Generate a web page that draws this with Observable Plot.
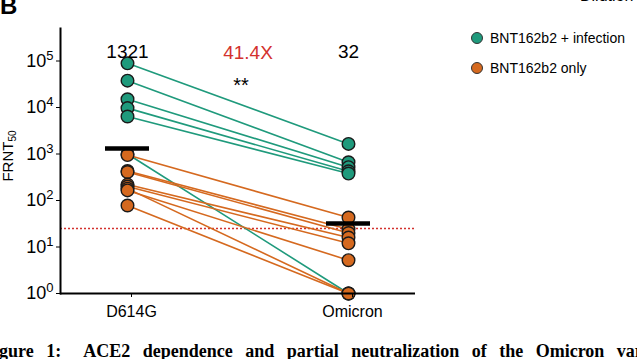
<!DOCTYPE html>
<html>
<head>
<meta charset="utf-8">
<script src="https://cdn.jsdelivr.net/npm/d3@7"></script>
<script src="https://cdn.jsdelivr.net/npm/@observablehq/plot@0.6"></script>
<style>
  html, body { margin: 0; padding: 0; background: #fff; }
  body { width: 637px; height: 359px; overflow: hidden; position: relative; font-family: "Liberation Sans", Arial, sans-serif; }
  #chart { position: absolute; left: 0; top: 0; }
  .abs { position: absolute; white-space: nowrap; color: #000; }
  #panel { left: 0px; top: -6px; font-size: 24px; font-weight: bold; line-height: 24px; }
  #dilution { left: 580px; top: -12px; font-size: 16px; line-height: 16px; }
  #ylabel { left: 10px; top: 156px; font-size: 15px; line-height: 15px; transform: translate(-50%, -50%) rotate(-90deg); }
  #ylabel sub { font-size: 10px; vertical-align: -3px; }
  #legend { left: 471px; top: 29px; font-size: 14px; }
  #legend .item { display: flex; align-items: center; height: 18px; margin-bottom: 12px; }
  #legend .sw { width: 12px; height: 12px; border-radius: 50%; border: 1px solid #333; box-sizing: border-box; margin-right: 7px; }
  #caption { left: -17px; top: 342px; font-family: "Liberation Serif", "DejaVu Serif", serif; font-weight: bold; font-size: 18px; line-height: 18px; word-spacing: 8px; }
  #caption .gap { display: inline-block; width: 22px; }
  #caption .rest { word-spacing: 8px; }
</style>
</head>
<body>
<div id="chart"></div>
<div class="abs" id="panel">B</div>
<div class="abs" id="dilution">Dilution</div>
<div class="abs" id="ylabel">FRNT<sub>50</sub></div>
<div class="abs" id="legend"></div>
<div class="abs" id="caption"><span>Figure 1:</span><span class="gap"></span><span class="rest">ACE2 dependence and partial neutralization of the Omicron variant</span></div>
<script>
// ---- data ----
const variants = ["D614G", "Omicron"];
const cohorts = ["BNT162b2 + infection", "BNT162b2 only"];
const cohortColors = ["#1f9a7c", "#d5691f"];
const subjectCohort = [0, 0, 0, 0, 0, 0, 1, 1, 1, 1, 1, 1, 1, 1];
const frntD614G   = [89000, 37800, 15000, 9700, 6400, 1000, 950, 430, 410, 220, 200, 180, 165, 78];
const frntOmicron = [1650, 665, 520, 425, 380, 1, 43, 24, 20, 16, 12, 1, 5.2, 1];
const geoMeans = [1321, 32];
const geoMeanLabels = ["1321", "32"];
const foldLabel = "41.4X";
const sigLabel = "**";
const detectionLimit = 25;
const yTicks = [1, 10, 100, 1000, 10000, 100000];
const yDomain = [1, 5e5];

// ---- tables ----
const rows = [];
subjectCohort.forEach((c, i) => {
  rows.push({id: i, cohort: cohorts[c], variant: variants[0], value: frntD614G[i]});
  rows.push({id: i, cohort: cohorts[c], variant: variants[1], value: frntOmicron[i]});
});
const means = variants.map((v, i) => ({variant: v, gm: geoMeans[i], label: geoMeanLabels[i]}));

const red = "#d3312e";

const plot = Plot.plot({
  width: 637,
  height: 359,
  marginLeft: 60,
  marginRight: 222,
  marginTop: 28,
  marginBottom: 66,
  style: {fontFamily: "'Liberation Sans', Arial, sans-serif", color: "#000", background: "transparent"},
  x: {type: "band", domain: variants, paddingInner: 0.8, paddingOuter: 0.2, label: null},
  y: {type: "log", domain: yDomain, label: null},
  color: {domain: cohorts, range: cohortColors},
  marks: [
    Plot.ruleY([detectionLimit], {stroke: red, strokeWidth: 1.6, strokeDasharray: "2 2"}),
    Plot.line(rows, {x: "variant", y: "value", z: "id", stroke: "cohort", strokeWidth: 1.6}),
    Plot.dot(rows, {x: "variant", y: "value", fill: "cohort", stroke: "#1a1a1a", strokeWidth: 1.4, r: 6.3}),
    Plot.tickY(means, {x: "variant", y: "gm", stroke: "#000", strokeWidth: 4.5}),
    Plot.frame({anchor: "left", strokeWidth: 2, stroke: "#000"}),
    Plot.ruleY([1], {stroke: "#000", strokeWidth: 2}),
    Plot.axisY({ticks: yTicks, tickSize: 4, tickPadding: 3, fontSize: 18,
      tickFormat: d => String(Math.round(Math.log10(d)))}),
    Plot.axisX({tickSize: 4, tickPadding: 8, fontSize: 16, dx: 4}),
    Plot.text(means, {x: "variant", text: "label", frameAnchor: "top", dy: 16, fontSize: 19}),
    Plot.text([foldLabel], {text: d => d, frameAnchor: "top", dx: 10, dy: 17, fontSize: 19, fill: red}),
    Plot.text([sigLabel], {text: d => d, frameAnchor: "top", dx: 3, dy: 49, fontSize: 20})
  ]
});

// superscript exponents for log tick labels
plot.querySelectorAll('[aria-label="y-axis tick label"] text').forEach(t => {
  const e = t.textContent;
  t.textContent = "10";
  const ts = document.createElementNS("http://www.w3.org/2000/svg", "tspan");
  ts.setAttribute("dy", "-0.55em");
  ts.setAttribute("font-size", "13");
  ts.textContent = e;
  t.appendChild(ts);
});
document.getElementById("chart").appendChild(plot);

// legend
const legend = document.getElementById("legend");
cohorts.forEach((c, i) => {
  const item = document.createElement("div");
  item.className = "item";
  const sw = document.createElement("span");
  sw.className = "sw";
  sw.style.background = cohortColors[i];
  const lab = document.createElement("span");
  lab.textContent = c;
  item.appendChild(sw);
  item.appendChild(lab);
  legend.appendChild(item);
});
</script>
</body>
</html>
